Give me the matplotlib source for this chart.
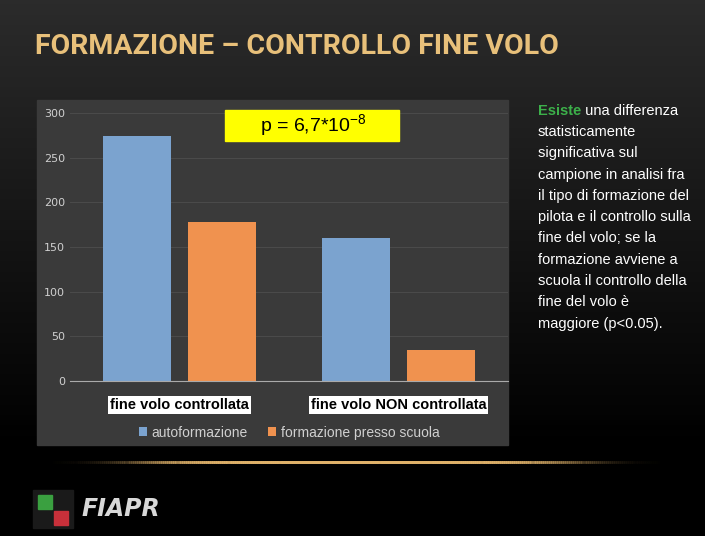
import numpy as np
import matplotlib.pyplot as plt
from matplotlib.patches import Rectangle

categories = ['fine volo controllata', 'fine volo NON controllata']
autoformazione = [274, 160]
scuola = [178, 35]
series_names = ['autoformazione', 'formazione presso scuola']
yticks = [0, 50, 100, 150, 200, 250, 300]

W, H = 705, 536
fig = plt.figure(figsize=(W/100, H/100), dpi=100)

# slide background
bg = fig.add_axes([0, 0, 1, 1])
grad = np.linspace(0, 1, 256)[:, None]
col = np.clip(0.17 - 0.17*grad*1.2, 0, 1)
bg.imshow(np.dstack([col, col, col]), aspect='auto', extent=[0, W, H, 0])
bg.set_xlim(0, W); bg.set_ylim(H, 0); bg.axis('off')
# chart panel
bg.add_patch(Rectangle((37, 100), 471, 345, color='#3a3a3a', zorder=2))
# glowing line
xs = np.linspace(50, 660, 300)
a = np.exp(-((xs-355)/200)**4)
for i in range(len(xs)-1):
    bg.plot(xs[i:i+2], [462, 462], color='#e0b26a', alpha=a[i], lw=2, zorder=3)
bg.text(35, 47, 'FORMAZIONE – CONTROLLO FINE VOLO', color='#e8c07a', fontsize=20.5,
        fontweight='bold', family='Roboto', va='center')
# logo
bg.add_patch(Rectangle((33, 490), 40, 38, color='#1a1a1a', zorder=3))
bg.add_patch(Rectangle((38, 495), 14, 14, color='#3aa040', zorder=4))
bg.add_patch(Rectangle((54, 511), 14, 14, color='#c8303a', zorder=4))
bg.text(82, 509, 'FIAPR', color='#d8d8d8', fontsize=17, fontweight='bold',
        style='italic', va='center')

# right text
t0 = bg.text(538, 111, 'Esiste', color='#3cb04a', fontsize=10.5, fontweight='bold',
             family='Liberation Sans', va='center')
bg.annotate(' una differenza', xycoords=t0, xy=(1, 0.5), color='white', fontsize=10.5,
            family='Liberation Sans', va='center')
lines = ['statisticamente', 'significativa sul', 'campione in analisi fra',
         'il tipo di formazione del', 'pilota e il controllo sulla',
         'fine del volo; se la', 'formazione avviene a',
         'scuola il controllo della', 'fine del volo è', 'maggiore (p<0.05).']
for i, t in enumerate(lines):
    bg.text(538, 132 + i*21.3, t, color='white', fontsize=10.5,
            family='Liberation Sans', va='center')

ax = fig.add_axes([70/W, 1-381/H, 438/W, 268/H])
ax.set_facecolor('none')
x = np.arange(len(categories))
ax.bar(x-0.194, autoformazione, 0.31, color='#7ba3cf', label=series_names[0])
ax.bar(x+0.194, scuola, 0.31, color='#f0924f', label=series_names[1])
ax.set_xlim(-0.5, 1.5)
ax.set_ylim(0, 300)
ax.set_yticks(yticks)
ax.tick_params(axis='y', colors='#d0d0d0', labelsize=8, length=0)
ax.grid(axis='y', color='#4a4a4a', lw=0.8)
ax.set_axisbelow(True)
for s in ['top', 'right', 'left']:
    ax.spines[s].set_visible(False)
ax.spines['bottom'].set_color('#aaaaaa')
ax.set_xticks(x)
ax.set_xticklabels(categories, fontsize=10.5, fontweight='bold', family='Liberation Sans',
                   bbox=dict(facecolor='white', edgecolor='none', pad=1.5))
ax.tick_params(axis='x', length=0, pad=12)
leg = ax.legend(loc='upper center', bbox_to_anchor=(0.5, -0.12), ncol=2, frameon=False,
                handlelength=0.6, handleheight=0.6, columnspacing=1.5,
                handletextpad=0.3, prop={'family': 'Liberation Sans', 'size': 10})
for t in leg.get_texts():
    t.set_color('#d0d0d0')
# yellow p-value box
ax.add_patch(Rectangle((0.355, 0.895), 0.397, 0.115, transform=ax.transAxes,
                       color='#ffff00', clip_on=False, zorder=5))
ax.text(0.555, 0.952, r'p = 6,7*10$^{\mathregular{-8}}$', transform=ax.transAxes,
        fontsize=14, family='Liberation Sans', ha='center', va='center', zorder=6)

fig.savefig('out.png', dpi=100)
